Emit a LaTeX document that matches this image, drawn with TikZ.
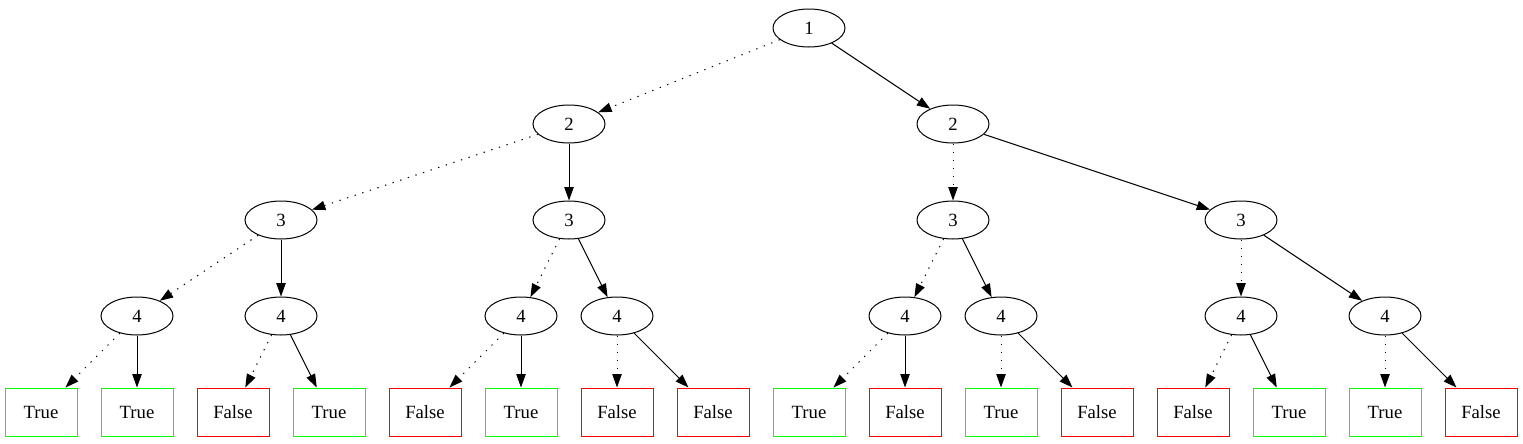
\documentclass[tikz,border=0pt]{standalone}
\usepackage{fontspec}
\setmainfont{Liberation Serif}
\usetikzlibrary{arrows.meta, shapes.geometric, positioning}
\definecolor{truegreen}{RGB}{0,255,0}
\definecolor{falsered}{RGB}{255,0,0}
\tikzstyle{var}=[ellipse, draw=black, line width=0.75pt, minimum width=54pt, minimum height=28.5pt, inner sep=0pt]
\tikzstyle{leaf}=[rectangle, line width=0.75pt, minimum width=54pt, minimum height=36pt, inner sep=0pt]
\tikzstyle{truebox}=[leaf, draw=truegreen]
\tikzstyle{falsebox}=[leaf, draw=falsered]
\tikzstyle{lo}=[-{Triangle[length=10pt,width=7pt]}, line width=0.75pt, dash pattern=on 1pt off 5pt]
\tikzstyle{hi}=[-{Triangle[length=10pt,width=7pt]}, line width=0.75pt]

\begin{document}
\begin{tikzpicture}[node distance=72pt, font=\fontsize{14pt}{16pt}\selectfont]
   \useasboundingbox (0,0) rectangle (1142.25pt,-332.25pt);
   % leaves
   \node[truebox] (t0) at (30.75pt,-309pt) {True};
   \node[truebox] (t1) [right of=t0] {True};
   \node[falsebox] (t2) [right of=t1] {False};
   \node[truebox] (t3) [right of=t2] {True};
   \node[falsebox] (t4) [right of=t3] {False};
   \node[truebox] (t5) [right of=t4] {True};
   \node[falsebox] (t6) [right of=t5] {False};
   \node[falsebox] (t7) [right of=t6] {False};
   \node[truebox] (t8) [right of=t7] {True};
   \node[falsebox] (t9) [right of=t8] {False};
   \node[truebox] (t10) [right of=t9] {True};
   \node[falsebox] (t11) [right of=t10] {False};
   \node[falsebox] (t12) [right of=t11] {False};
   \node[truebox] (t13) [right of=t12] {True};
   \node[truebox] (t14) [right of=t13] {True};
   \node[falsebox] (t15) [right of=t14] {False};

   % variable 4
   \node[var] (v4a) [above of=t1] {4}
      edge [lo] (t0) edge [hi] (t1);
   \node[var] (v4b) [above of=t2, xshift=36pt] {4}
      edge [lo] (t2) edge [hi] (t3);
   \node[var] (v4c) [above of=t5] {4}
      edge [lo] (t4) edge [hi] (t5);
   \node[var] (v4d) [above of=t6] {4}
      edge [lo] (t6) edge [hi] (t7);
   \node[var] (v4e) [above of=t9] {4}
      edge [lo] (t8) edge [hi] (t9);
   \node[var] (v4f) [above of=t10] {4}
      edge [lo] (t10) edge [hi] (t11);
   \node[var] (v4g) [above of=t12, xshift=36pt] {4}
      edge [lo] (t12) edge [hi] (t13);
   \node[var] (v4h) [above of=t14] {4}
      edge [lo] (t14) edge [hi] (t15);

   % variable 3
   \node[var] (v3a) [above of=v4b] {3}
      edge [lo] (v4a) edge [hi] (v4b);
   \node[var] (v3b) [above of=v4c, xshift=36pt] {3}
      edge [lo] (v4c) edge [hi] (v4d);
   \node[var] (v3c) [above of=v4e, xshift=36pt] {3}
      edge [lo] (v4e) edge [hi] (v4f);
   \node[var] (v3d) [above of=v4g] {3}
      edge [lo] (v4g) edge [hi] (v4h);

   % variable 2
   \node[var] (v2a) [above of=v3b] {2}
      edge [lo] (v3a) edge [hi] (v3b);
   \node[var] (v2b) [above of=v3c] {2}
      edge [lo] (v3c) edge [hi] (v3d);

   % root
   \node[var] (v1) [above of=v2a, xshift=180pt] {1}
      edge [lo] (v2a) edge [hi] (v2b);
\end{tikzpicture}
\end{document}
